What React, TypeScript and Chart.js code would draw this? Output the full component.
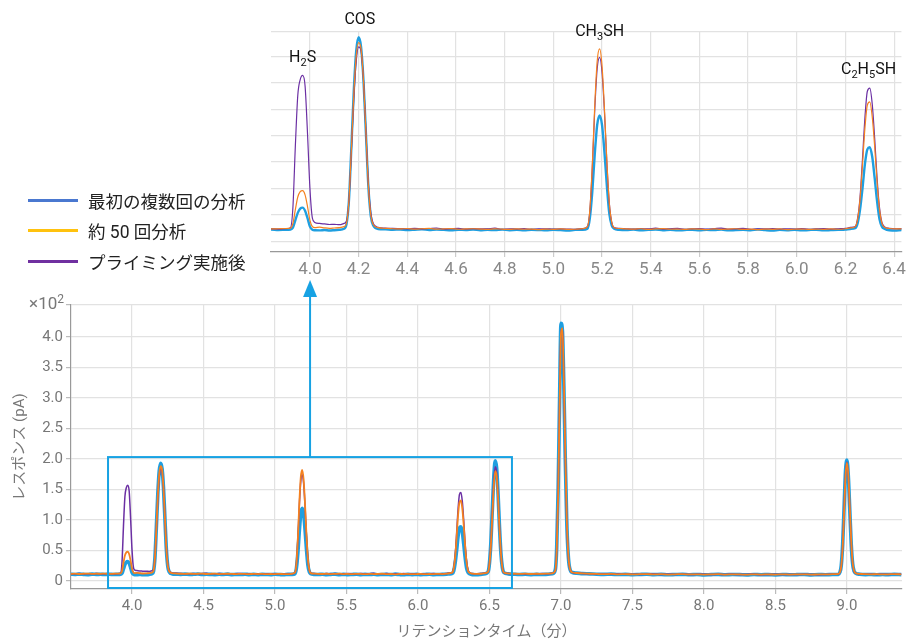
import React, { useEffect, useRef } from "react";
import { Chart, registerables } from "chart.js";

Chart.register(...registerables);

const FONT = 'Roboto, "Noto Sans CJK JP", "Noto Sans", sans-serif';

// ---- series meta ----
const seriesNames = ["最初の複数回の分析", "約 50 回分析", "プライミング実施後"];
const legendColors = ["#4a78d0", "#ffc20e", "#7030a0"];
const lineColors = ["#1f9fe0", "#f5811f", "#6b2fa3"];

// ---- retention time (min) ----
const retentionTime = [
  3.57, 3.6, 3.63, 3.66, 3.69, 3.72, 3.75, 3.78, 3.81, 3.84, 3.87, 3.9, 3.92,
  3.93, 3.94, 3.95, 3.96, 3.97, 3.98, 3.99, 4.0, 4.01, 4.02,
  4.04, 4.06, 4.08, 4.1, 4.12, 4.14,
  4.15, 4.16, 4.17, 4.18, 4.19, 4.2, 4.21, 4.22, 4.23, 4.24, 4.25, 4.26,
  4.28, 4.31, 4.34, 4.37, 4.4, 4.43, 4.46, 4.49, 4.52, 4.55, 4.58, 4.61, 4.64, 4.67, 4.7, 4.73, 4.76, 4.79, 4.82, 4.85, 4.88, 4.91, 4.94, 4.97, 5.0, 5.03, 5.06, 5.09, 5.12,
  5.14, 5.15, 5.16, 5.17, 5.18, 5.19, 5.2, 5.21, 5.22, 5.23, 5.24, 5.25,
  5.27, 5.3, 5.33, 5.36, 5.39, 5.42, 5.45, 5.48, 5.51, 5.54, 5.57, 5.6, 5.63, 5.66, 5.69, 5.72, 5.75, 5.78, 5.81, 5.84, 5.87, 5.9, 5.93, 5.96, 5.99, 6.02, 6.05, 6.08, 6.11, 6.14, 6.17, 6.2, 6.22,
  6.24, 6.25, 6.26, 6.27, 6.28, 6.29, 6.3, 6.31, 6.32, 6.33, 6.34, 6.35, 6.36,
  6.38, 6.41, 6.44, 6.47,
  6.49, 6.5, 6.51, 6.52, 6.53, 6.54, 6.55, 6.56, 6.57, 6.58, 6.59, 6.6,
  6.63, 6.67, 6.71, 6.75, 6.79, 6.83, 6.87, 6.91, 6.94,
  6.96, 6.97, 6.98, 6.99, 7.0, 7.01, 7.02, 7.03, 7.04, 7.05, 7.06, 7.08,
  7.11, 7.15, 7.2, 7.25, 7.3, 7.35, 7.4, 7.45, 7.5, 7.55, 7.6, 7.65, 7.7, 7.75, 7.8, 7.85, 7.9, 7.95, 8.0, 8.05, 8.1, 8.15, 8.2, 8.25, 8.3, 8.35, 8.4, 8.45, 8.5, 8.55, 8.6, 8.65, 8.7, 8.75, 8.8, 8.85, 8.9, 8.94,
  8.95, 8.96, 8.97, 8.98, 8.99, 9.0, 9.01, 9.02, 9.03, 9.04, 9.05, 9.06,
  9.09, 9.13, 9.17, 9.21, 9.25, 9.29, 9.33, 9.38,
];

// ---- response (x10^2 pA) ----
const firstRuns = [
  0.112, 0.108, 0.114, 0.110, 0.106, 0.113, 0.109, 0.111, 0.107, 0.112, 0.108, 0.110, 0.113,
  0.13, 0.2, 0.27, 0.31, 0.32, 0.29, 0.22, 0.14, 0.11, 0.105,
  0.104, 0.108, 0.103, 0.106, 0.11, 0.12,
  0.16, 0.38, 0.88, 1.42, 1.8, 1.93, 1.84, 1.52, 1.02, 0.52, 0.24, 0.15,
  0.118, 0.114, 0.11, 0.113, 0.108, 0.111, 0.115, 0.107, 0.112, 0.109, 0.106, 0.111, 0.108, 0.113, 0.105, 0.11, 0.107, 0.112, 0.106, 0.109, 0.104, 0.11, 0.108, 0.105, 0.111, 0.107, 0.103, 0.109, 0.11,
  0.12, 0.22, 0.47, 0.82, 1.1, 1.19, 1.1, 0.84, 0.52, 0.26, 0.15, 0.12,
  0.11, 0.107, 0.112, 0.105, 0.109, 0.113, 0.106, 0.11, 0.104, 0.108, 0.111, 0.105, 0.109, 0.107, 0.112, 0.104, 0.108, 0.11, 0.105, 0.113, 0.107, 0.103, 0.109, 0.106, 0.11, 0.104, 0.108, 0.111, 0.105, 0.107, 0.109, 0.112, 0.118,
  0.125, 0.17, 0.3, 0.5, 0.73, 0.87, 0.89, 0.8, 0.6, 0.38, 0.21, 0.14, 0.12,
  0.105, 0.103, 0.11, 0.12,
  0.15, 0.3, 0.65, 1.18, 1.7, 1.97, 1.85, 1.42, 0.88, 0.45, 0.22, 0.14,
  0.118, 0.112, 0.108, 0.111, 0.106, 0.11, 0.107, 0.112, 0.12,
  0.18, 0.55, 1.5, 2.95, 4.22, 4.1, 3.2, 2.0, 1.0, 0.45, 0.22, 0.14,
  0.13, 0.122, 0.118, 0.112, 0.109, 0.113, 0.107, 0.11, 0.104, 0.108, 0.111, 0.105, 0.109, 0.103, 0.107, 0.11, 0.104, 0.108, 0.102, 0.106, 0.109, 0.103, 0.107, 0.105, 0.101, 0.108, 0.104, 0.106, 0.102, 0.107, 0.103, 0.105, 0.108, 0.102, 0.106, 0.104, 0.107, 0.11,
  0.14, 0.25, 0.6, 1.2, 1.8, 1.98, 1.7, 1.15, 0.6, 0.28, 0.16, 0.13,
  0.112, 0.106, 0.108, 0.104, 0.107, 0.105, 0.109, 0.106,
];

const after50Runs = [
  0.118, 0.121, 0.116, 0.120, 0.123, 0.117, 0.121, 0.119, 0.122, 0.118, 0.120, 0.122, 0.125,
  0.17, 0.3, 0.42, 0.47, 0.48, 0.44, 0.33, 0.2, 0.14, 0.13,
  0.135, 0.128, 0.124, 0.127, 0.13, 0.14,
  0.17, 0.38, 0.86, 1.38, 1.75, 1.88, 1.82, 1.52, 1.03, 0.53, 0.25, 0.16,
  0.13, 0.124, 0.12, 0.118, 0.122, 0.117, 0.12, 0.123, 0.116, 0.119, 0.121, 0.115, 0.118, 0.12, 0.117, 0.114, 0.119, 0.116, 0.113, 0.118, 0.115, 0.117, 0.112, 0.116, 0.114, 0.118, 0.113, 0.115, 0.12,
  0.14, 0.3, 0.72, 1.28, 1.7, 1.82, 1.66, 1.25, 0.75, 0.36, 0.18, 0.13,
  0.122, 0.118, 0.116, 0.12, 0.114, 0.118, 0.121, 0.115, 0.117, 0.113, 0.119, 0.116, 0.112, 0.118, 0.114, 0.117, 0.12, 0.113, 0.116, 0.111, 0.117, 0.114, 0.118, 0.112, 0.115, 0.117, 0.113, 0.116, 0.114, 0.118, 0.115, 0.12, 0.128,
  0.14, 0.21, 0.4, 0.72, 1.07, 1.29, 1.32, 1.18, 0.9, 0.56, 0.3, 0.17, 0.135,
  0.122, 0.118, 0.12, 0.13,
  0.15, 0.29, 0.6, 1.08, 1.56, 1.8, 1.72, 1.35, 0.86, 0.45, 0.22, 0.14,
  0.125, 0.12, 0.117, 0.121, 0.116, 0.12, 0.118, 0.122, 0.128,
  0.17, 0.5, 1.4, 2.8, 4.05, 4.14, 3.3, 2.1, 1.05, 0.47, 0.23, 0.14,
  0.132, 0.125, 0.12, 0.116, 0.113, 0.117, 0.111, 0.114, 0.109, 0.112, 0.115, 0.108, 0.112, 0.107, 0.111, 0.114, 0.108, 0.11, 0.106, 0.11, 0.113, 0.107, 0.11, 0.108, 0.105, 0.111, 0.107, 0.109, 0.106, 0.11, 0.107, 0.109, 0.111, 0.106, 0.109, 0.108, 0.112, 0.118,
  0.14, 0.24, 0.55, 1.12, 1.72, 1.94, 1.72, 1.2, 0.65, 0.3, 0.17, 0.13,
  0.118, 0.112, 0.11, 0.113, 0.109, 0.111, 0.114, 0.11,
];

const afterPriming = [
  0.116, 0.119, 0.122, 0.117, 0.120, 0.118, 0.123, 0.116, 0.121, 0.119, 0.117, 0.121, 0.13,
  0.32, 0.9, 1.38, 1.53, 1.57, 1.47, 1.02, 0.5, 0.22, 0.18,
  0.17, 0.165, 0.16, 0.162, 0.158, 0.17,
  0.19, 0.38, 0.84, 1.34, 1.7, 1.84, 1.8, 1.52, 1.04, 0.55, 0.27, 0.17,
  0.134, 0.126, 0.123, 0.121, 0.119, 0.124, 0.118, 0.122, 0.127, 0.117, 0.12, 0.123, 0.116, 0.121, 0.118, 0.12, 0.125, 0.115, 0.119, 0.117, 0.121, 0.114, 0.118, 0.12, 0.116, 0.119, 0.117, 0.114, 0.121,
  0.14, 0.29, 0.7, 1.24, 1.63, 1.74, 1.6, 1.22, 0.74, 0.36, 0.18, 0.13,
  0.124, 0.12, 0.117, 0.122, 0.118, 0.125, 0.116, 0.12, 0.123, 0.115, 0.119, 0.122, 0.117, 0.121, 0.126, 0.116, 0.119, 0.123, 0.115, 0.12, 0.118, 0.122, 0.116, 0.12, 0.117, 0.121, 0.115, 0.119, 0.122, 0.117, 0.12, 0.123, 0.132,
  0.14, 0.22, 0.42, 0.78, 1.17, 1.42, 1.45, 1.3, 0.98, 0.6, 0.32, 0.18, 0.14,
  0.124, 0.12, 0.122, 0.13,
  0.15, 0.3, 0.62, 1.12, 1.62, 1.87, 1.78, 1.38, 0.87, 0.45, 0.22, 0.14,
  0.124, 0.118, 0.121, 0.116, 0.12, 0.117, 0.122, 0.119, 0.127,
  0.17, 0.52, 1.45, 2.85, 4.12, 4.1, 3.25, 2.05, 1.02, 0.46, 0.22, 0.14,
  0.13, 0.124, 0.119, 0.114, 0.116, 0.112, 0.115, 0.11, 0.113, 0.109, 0.112, 0.116, 0.108, 0.111, 0.109, 0.113, 0.107, 0.11, 0.112, 0.106, 0.11, 0.108, 0.111, 0.107, 0.109, 0.112, 0.105, 0.108, 0.11, 0.106, 0.109, 0.107, 0.11, 0.108, 0.105, 0.109, 0.11, 0.115,
  0.14, 0.24, 0.57, 1.15, 1.75, 1.95, 1.7, 1.17, 0.62, 0.29, 0.16, 0.13,
  0.116, 0.11, 0.113, 0.109, 0.112, 0.108, 0.111, 0.113,
];

// ---- axes ----
const mainXRange = [3.573, 9.385];
const mainYRange = [-0.13, 4.52];
const mainXTicks = [4.0, 4.5, 5.0, 5.5, 6.0, 6.5, 7.0, 7.5, 8.0, 8.5, 9.0];
const mainYTicks = [0, 0.5, 1.0, 1.5, 2.0, 2.5, 3.0, 3.5, 4.0];
const insetXRange = [3.84, 6.43];
const insetYRange = [-0.1, 1.98];
const insetXTicks = [4.0, 4.2, 4.4, 4.6, 4.8, 5.0, 5.2, 5.4, 5.6, 5.8, 6.0, 6.2, 6.4];
const insetYTicks = [0, 0.25, 0.5, 0.75, 1.0, 1.25, 1.5, 1.75];

// ---- annotations ----
const peakLabels = ["H_2S", "COS", "CH_3SH", "C_2H_5SH"];
const peakTimes = [3.97, 4.205, 5.19, 6.295];
const peakTops = [1.57, 1.93, 1.82, 1.46];
const zoomBoxTime = [3.832, 6.657];
const zoomBoxTop = 2.03;
const arrowTime = 5.245;
const arrowTip = 4.93;

const xTitle = "リテンションタイム（分）";
const yTitle = "レスポンス (pA)";

const AXIS_GRAY = "#777";
const GRID = "#e2e2e2";
const BLUE_BOX = "#17a2e3";

function buildDatasets(widths: number[]) {
  const series = [firstRuns, after50Runs, afterPriming];
  const orders = [3, 1, 2];
  return series.map((vals, i) => ({
    label: seriesNames[i],
    data: retentionTime.map((t, k) => ({ x: t, y: vals[k] })),
    borderColor: lineColors[i],
    backgroundColor: lineColors[i],
    borderWidth: widths[i],
    pointRadius: 0,
    cubicInterpolationMode: "monotone" as const,
    order: orders[i],
  }));
}

function drawChem(ctx: CanvasRenderingContext2D, label: string, cx: number, cy: number) {
  const parts: { t: string; sub: boolean }[] = [];
  for (let i = 0; i < label.length; i++) {
    if (label[i] === "_") {
      parts.push({ t: label[i + 1], sub: true });
      i++;
    } else parts.push({ t: label[i], sub: false });
  }
  const big = `16px ${FONT}`;
  const small = `11px ${FONT}`;
  let total = 0;
  for (const p of parts) {
    ctx.font = p.sub ? small : big;
    total += ctx.measureText(p.t).width;
  }
  let x = cx - total / 2;
  ctx.fillStyle = "#111";
  ctx.textAlign = "left";
  ctx.textBaseline = "middle";
  for (const p of parts) {
    ctx.font = p.sub ? small : big;
    ctx.fillText(p.t, x, p.sub ? cy + 5 : cy);
    x += ctx.measureText(p.t).width;
  }
}

const mainDecor = {
  id: "mainDecor",
  afterDatasetsDraw(chart: any) {
    const { ctx, scales } = chart;
    const x = scales.x;
    const y = scales.y;
    const x0 = x.getPixelForValue(zoomBoxTime[0]);
    const x1 = x.getPixelForValue(zoomBoxTime[1]);
    const yTop = y.getPixelForValue(zoomBoxTop);
    const yBot = y.getPixelForValue(mainYRange[0]);
    ctx.save();
    ctx.strokeStyle = BLUE_BOX;
    ctx.fillStyle = BLUE_BOX;
    ctx.lineWidth = 2;
    ctx.strokeRect(x0, yTop, x1 - x0, yBot - yTop - 1);
    const ax = x.getPixelForValue(arrowTime);
    const tip = y.getPixelForValue(arrowTip);
    ctx.beginPath();
    ctx.moveTo(ax, yTop);
    ctx.lineTo(ax, tip + 14);
    ctx.stroke();
    ctx.beginPath();
    ctx.moveTo(ax, tip);
    ctx.lineTo(ax - 7, tip + 17);
    ctx.lineTo(ax + 7, tip + 17);
    ctx.closePath();
    ctx.fill();
    // ×10²
    ctx.fillStyle = AXIS_GRAY;
    ctx.textBaseline = "middle";
    ctx.textAlign = "right";
    ctx.font = `12px ${FONT}`;
    const rx = y.right - 7;
    const sw = ctx.measureText("2").width;
    ctx.fillText("2", rx, chart.chartArea.top - 5);
    ctx.font = `17px ${FONT}`;
    ctx.fillText("×10", rx - sw, chart.chartArea.top);
    ctx.restore();
  },
};

const insetDecor = {
  id: "insetDecor",
  afterDatasetsDraw(chart: any) {
    const { ctx, scales } = chart;
    ctx.save();
    peakLabels.forEach((lab, i) => {
      const px = scales.x.getPixelForValue(peakTimes[i]);
      const py = scales.y.getPixelForValue(peakTops[i]) - 17;
      drawChem(ctx, lab, px, py);
    });
    ctx.restore();
  },
};

export default function App() {
  const mainRef = useRef<HTMLCanvasElement>(null);
  const insetRef = useRef<HTMLCanvasElement>(null);

  useEffect(() => {
    const main = new Chart(mainRef.current!, {
      type: "line",
      data: { datasets: buildDatasets([3.6, 1.8, 1.5]) as any },
      options: {
        responsive: false,
        animation: false,
        devicePixelRatio: 1,
        events: [],
        layout: { padding: { left: 0, top: 305, right: 7, bottom: 0 } },
        plugins: { legend: { display: false }, tooltip: { enabled: false } },
        scales: {
          x: {
            type: "linear",
            min: mainXRange[0],
            max: mainXRange[1],
            afterBuildTicks: (s: any) => {
              s.ticks = mainXTicks.map((v) => ({ value: v }));
            },
            afterFit: (s: any) => {
              s.height = 52;
            },
            ticks: {
              autoSkip: false,
              maxRotation: 0,
              padding: 3,
              color: AXIS_GRAY,
              font: { family: FONT, size: 15 },
              callback: (v: any) => Number(v).toFixed(1),
            },
            grid: { color: GRID, lineWidth: 1.2, tickLength: 5, tickColor: "#bbb" },
            border: { color: "#999", width: 1.2 },
            title: {
              display: true,
              text: xTitle,
              color: AXIS_GRAY,
              font: { family: FONT, size: 15 },
              padding: { top: 0, bottom: 0 },
            },
          },
          y: {
            type: "linear",
            min: mainYRange[0],
            max: mainYRange[1],
            afterBuildTicks: (s: any) => {
              s.ticks = [...mainYTicks, mainYRange[1]].map((v) => ({ value: v }));
            },
            afterFit: (s: any) => {
              s.width = 71;
            },
            ticks: {
              autoSkip: false,
              padding: 3,
              color: AXIS_GRAY,
              font: { family: FONT, size: 15 },
              callback: (v: any) =>
                mainYTicks.includes(Number(v)) ? (Number(v) === 0 ? "0" : Number(v).toFixed(1)) : "",
            },
            grid: { color: GRID, lineWidth: 1.2, tickLength: 5, tickColor: "#bbb" },
            border: { color: "#999", width: 1.2 },
            title: {
              display: true,
              text: yTitle,
              color: AXIS_GRAY,
              font: { family: FONT, size: 15 },
              padding: { top: 11, bottom: 0 },
            },
          },
        },
      },
      plugins: [mainDecor],
    });

    const inset = new Chart(insetRef.current!, {
      type: "line",
      data: { datasets: buildDatasets([2.4, 1.2, 1.2]) as any },
      options: {
        responsive: false,
        animation: false,
        devicePixelRatio: 1,
        events: [],
        layout: { padding: { left: 271, top: 32, right: 7, bottom: 0 } },
        plugins: { legend: { display: false }, tooltip: { enabled: false } },
        scales: {
          x: {
            type: "linear",
            min: insetXRange[0],
            max: insetXRange[1],
            afterBuildTicks: (s: any) => {
              s.ticks = insetXTicks.map((v) => ({ value: v }));
            },
            afterFit: (s: any) => {
              s.height = 48;
            },
            ticks: {
              autoSkip: false,
              maxRotation: 0,
              padding: 3,
              color: "#888",
              font: { family: FONT, size: 17 },
              callback: (v: any) => Number(v).toFixed(1),
            },
            grid: { color: GRID, lineWidth: 1.2, tickLength: 5, tickColor: "#ccc" },
            border: { color: "#999", width: 1.2 },
          },
          y: {
            type: "linear",
            min: insetYRange[0],
            max: insetYRange[1],
            afterBuildTicks: (s: any) => {
              s.ticks = [...insetYTicks, insetYRange[1]].map((v) => ({ value: v }));
            },
            afterFit: (s: any) => {
              s.width = 0;
            },
            ticks: { display: false },
            grid: { color: GRID, lineWidth: 1.2, drawTicks: false },
            border: { display: false },
          },
        },
      },
      plugins: [insetDecor],
    });

    return () => {
      main.destroy();
      inset.destroy();
    };
  }, []);

  return (
    <div style={{ position: "absolute", left: 0, top: 0, width: 909, height: 641, background: "#fff", overflow: "hidden" }}>
      <canvas ref={mainRef} width={909} height={641} style={{ position: "absolute", left: 0, top: 0, display: "block" }} />
      <canvas ref={insetRef} width={909} height={300} style={{ position: "absolute", left: 0, top: 0, display: "block" }} />
      <div style={{ position: "absolute", left: 28, top: 185, font: `17.5px ${FONT}`, color: "#222" }}>
        {seriesNames.map((n, i) => (
          <div key={n} style={{ display: "flex", alignItems: "center", height: 30.5, whiteSpace: "nowrap" }}>
            <span style={{ display: "inline-block", width: 50, height: 3, background: legendColors[i], marginRight: 10 }} />
            {n}
          </div>
        ))}
      </div>
    </div>
  );
}
